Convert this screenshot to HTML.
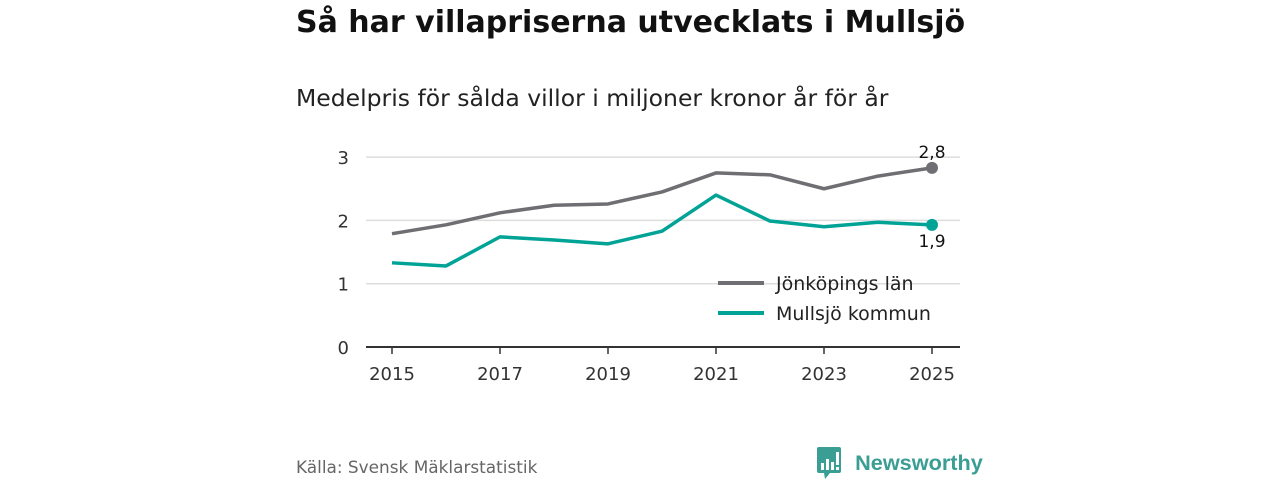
<!DOCTYPE html>
<html><head><meta charset="utf-8"><style>
body{margin:0;width:1280px;height:480px;background:#fff;font-family:"DejaVu Sans","Liberation Sans",sans-serif;overflow:hidden;position:relative}
.t{position:absolute;white-space:nowrap}
</style></head><body>
<div class="t" style="left:296px;top:5px;font-size:30px;font-weight:bold;color:#111">Så har villapriserna utvecklats i Mullsjö</div>
<div class="t" style="left:296px;top:84px;font-size:23.5px;color:#222">Medelpris för sålda villor i miljoner kronor år för år</div>
<svg id="c" width="1280" height="480" style="position:absolute;left:0;top:0"></svg>
<div class="t" style="left:296px;top:457px;font-size:16.9px;color:#666">Källa: Svensk Mäklarstatistik</div>
<div class="t" style="left:816px;top:446px;">
<svg width="26" height="34" style="vertical-align:middle"><path d="M1 3 Q1 1 3 1 H23 Q25 1 25 3 V25 Q25 27 23 27 H14 L9 33 L8 27 H3 Q1 27 1 25Z" fill="#3b9e94"/><rect x="5" y="17" width="3" height="7" fill="#fff"/><rect x="10" y="13" width="3" height="11" fill="#fff"/><rect x="15" y="16" width="3" height="8" fill="#fff"/><rect x="20" y="6" width="3" height="13" fill="#fff"/><rect x="20" y="21" width="3" height="3" fill="#fff"/></svg>
<span style="font-family:'Liberation Sans',sans-serif;font-size:21.7px;font-weight:bold;color:#3b9e94;vertical-align:middle;margin-left:8px">Newsworthy</span></div>
<script>
const years=[2015,2016,2017,2018,2019,2020,2021,2022,2023,2024,2025];
const jonkoping=[1.79,1.93,2.12,2.24,2.26,2.45,2.75,2.72,2.50,2.70,2.83];
const mullsjo=[1.33,1.28,1.74,1.69,1.63,1.83,2.40,1.99,1.90,1.97,1.93];
const yTicks=[0,1,2,3];
const xTicks=[2015,2017,2019,2021,2023,2025];
const jLabel="2,8", mLabel="1,9";
const svg=document.getElementById('c');const NS='http://www.w3.org/2000/svg';
const X=y=>392+(y-2015)*54, Y=v=>347-v*63.3;
function mk(t,a,p){const e=document.createElementNS(NS,t);for(const k in a)e.setAttribute(k,a[k]);(p||svg).appendChild(e);return e;}
yTicks.forEach(v=>{
 const l=mk('line',{x1:366,x2:960,y1:Y(v),y2:Y(v),stroke:v?'#ddd':'#333','stroke-width':v?1.5:2});
 
 
 const t=mk('text',{x:349,y:Y(v)+7,'text-anchor':'end','font-size':18,fill:'#333','font-family':'DejaVu Sans, sans-serif'});t.textContent=v;
 
 
});
xTicks.forEach(y=>{
 const l=mk('line',{x1:X(y),x2:X(y),y1:347,y2:354,stroke:'#333','stroke-width':1.5});
 
 
 const t=mk('text',{x:X(y),y:380,'text-anchor':'middle','font-size':18,fill:'#333','font-family':'DejaVu Sans, sans-serif'});t.textContent=y;
 
 
});
function series(vals,col,name){
 const p=mk('polyline',{points:vals.map((v,i)=>X(years[i])+','+Y(v)).join(' '),fill:'none',stroke:col,'stroke-width':3.5,'stroke-linejoin':'round'});
 
 
 const c=mk('circle',{cx:X(years[years.length-1]),cy:Y(vals[vals.length-1]),r:6,fill:col});
 
 
}
series(jonkoping,'#6f6e73','jonkoping');
series(mullsjo,'#00a396','mullsjo');
let t=mk('text',{x:X(2025),y:Y(jonkoping[10])-10,'text-anchor':'middle','font-size':17,fill:'#111','font-family':'DejaVu Sans, sans-serif'});t.textContent=jLabel;


t=mk('text',{x:X(2025),y:Y(mullsjo[10])+22,'text-anchor':'middle','font-size':17,fill:'#111','font-family':'DejaVu Sans, sans-serif'});t.textContent=mLabel;


[['Jönköpings län','#6f6e73',283],['Mullsjö kommun','#00a396',313]].forEach(([n,c,y])=>{
 const g=mk('g',{});
 
 
 mk('line',{x1:718,x2:764,y1:y,y2:y,stroke:c,'stroke-width':4},g);
 const tx=mk('text',{x:776,y:y+7,'font-size':19,fill:'#222','font-family':'DejaVu Sans, sans-serif'},g);tx.textContent=n;
});
</script>
</body></html>
